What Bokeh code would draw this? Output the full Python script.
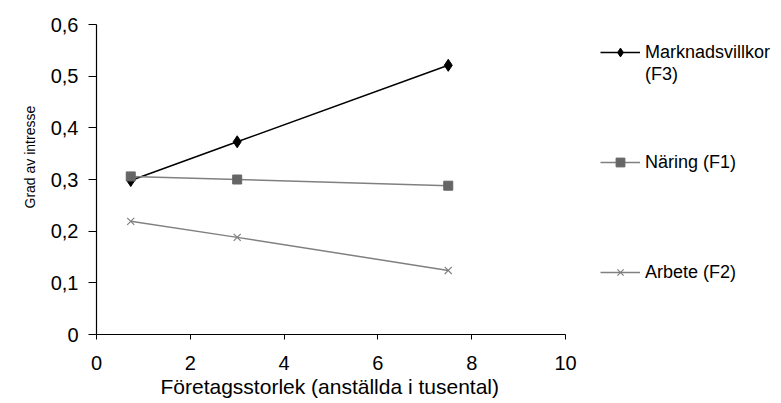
from bokeh.plotting import figure
from bokeh.models import Range1d, Legend, LegendItem, FixedTicker, CustomJSTickFormatter, Title
from bokeh.embed import file_html
from bokeh.resources import INLINE

FONT = "Liberation Sans"

x_size = [0.73, 3.0, 7.5]
marknad = [0.298, 0.373, 0.521]
naring = [0.306, 0.300, 0.288]
arbete = [0.219, 0.188, 0.124]

series_names = ["Marknadsvillkor", "(F3)", "Näring (F1)", "Arbete (F2)"]
x_label = "Företagsstorlek (anställda i tusental)"
y_label = "Grad av intresse"
x_ticks = [0, 2, 4, 6, 8, 10]
y_ticks = [0, 0.1, 0.2, 0.3, 0.4, 0.5, 0.6]
x_axis_max = 10
y_axis_max = 0.6

# layout (pixels)
LEFT, TOP, AXIS_RIGHT_PX, W, H = 96, 24, 565, 781, 403
x_view_end = x_axis_max * (W - LEFT) / (AXIS_RIGHT_PX - LEFT)

p = figure(width=W, height=H, output_backend="svg", toolbar_location=None,
           x_range=Range1d(0, x_view_end), y_range=Range1d(0, y_axis_max),
           min_border_left=LEFT, min_border_right=0, min_border_top=TOP, min_border_bottom=69)
p.outline_line_color = None
p.xgrid.visible = False
p.ygrid.visible = False
p.background_fill_color = "white"
p.border_fill_color = "white"

r1l = p.line(x_size, marknad, line_color="black", line_width=1.5)
r1m = p.scatter(x_size, marknad, marker="diamond", size=12, fill_color="black", line_color="black")
r2l = p.line(x_size, naring, line_color="#808080", line_width=1.5)
r2m = p.scatter(x_size, naring, marker="square", size=9, fill_color="#666666", line_color="#666666")
r3l = p.line(x_size, arbete, line_color="#808080", line_width=1.5)
r3m = p.scatter(x_size, arbete, marker="x", size=10, line_color="#808080", line_width=1.2)
# invisible renderer used only for text-only legend rows
blank = p.line([], [], line_alpha=0)

for ax in (p.xaxis[0], p.yaxis[0]):
    ax.axis_line_color = "black"
    ax.axis_line_width = 1.2
    ax.major_tick_line_color = "black"
    ax.major_tick_in = 0
    ax.minor_tick_line_color = None
    ax.major_label_text_font = FONT
    ax.major_label_text_font_size = "20px"
    ax.major_label_text_color = "black"

p.xaxis.bounds = (0, x_axis_max)
p.xaxis.ticker = FixedTicker(ticks=x_ticks)
p.yaxis.ticker = FixedTicker(ticks=y_ticks)
p.yaxis.formatter = CustomJSTickFormatter(code="return tick == 0 ? '0' : tick.toFixed(1).replace('.', ',');")
p.xaxis.major_tick_out = 5
p.yaxis.major_tick_out = 8
p.xaxis.major_label_standoff = 16
p.yaxis.major_label_standoff = 10

# trailing empty line with a negative line height lowers the label inside its panel
xt = Title(text=x_label + "\n", align="left", offset=64, standoff=0, vertical_align="bottom",
           text_line_height=-0.22,
           text_font=FONT, text_font_size="21px", text_font_style="normal", text_color="black")
p.add_layout(xt, "below")

yt = Title(text=y_label, align="left", offset=126, standoff=20,
           text_font=FONT, text_font_size="14px", text_font_style="normal", text_color="black")
p.add_layout(yt, "left")

items = [
    LegendItem(label=series_names[0], renderers=[r1l, r1m]),
    LegendItem(label=series_names[1], renderers=[blank]),
]
for _ in range(3):
    items.append(LegendItem(label=" ", renderers=[blank]))
items.append(LegendItem(label=series_names[2], renderers=[r2l, r2m]))
for _ in range(4):
    items.append(LegendItem(label=" ", renderers=[blank]))
items.append(LegendItem(label=series_names[3], renderers=[r3l, r3m]))

legend = Legend(items=items, location=(504, 51))
legend.border_line_color = None
legend.background_fill_alpha = 0
legend.padding = 0
legend.margin = 0
legend.spacing = 0
legend.glyph_width = 40
legend.glyph_height = 22
legend.label_height = 22
legend.label_standoff = 5
legend.label_text_font = FONT
legend.label_text_font_size = "18px"
legend.label_text_color = "black"
p.add_layout(legend, "center")

open("out.html", "w").write(file_html(p, INLINE))
